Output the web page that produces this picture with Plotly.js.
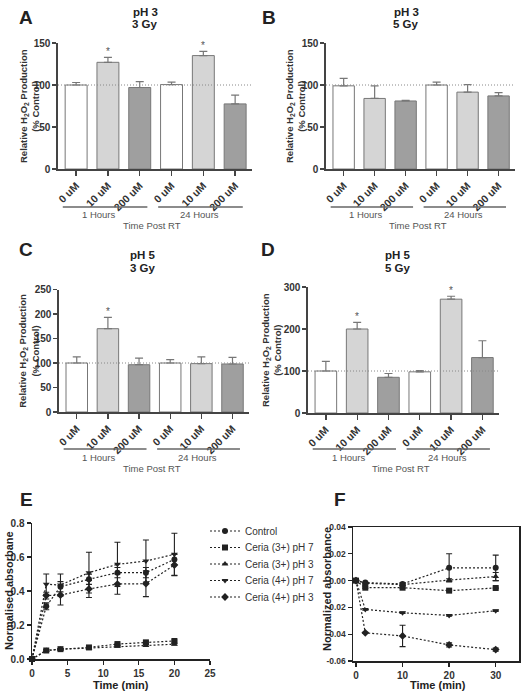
<!DOCTYPE html>
<html>
<head>
<meta charset="utf-8">
<script src="https://cdn.plot.ly/plotly-3.0.1.min.js"></script>
<style>html,body{margin:0;padding:0;background:#fff;}#chart{width:526px;height:696px;}</style>
</head>
<body>
<div id="chart"></div>
<script>
// ---------------- DATA ----------------
const barCats = ["0 uM", "10 uM", "200 uM", "0 uM", "10 uM", "200 uM"];
const groupLabels = ["1 Hours", "24 Hours"];
const groupAxisLabel = "Time Post RT";
const refLine = 100;

const A_vals = [100, 127, 97, 100.5, 135, 77.5];
const A_err  = [3, 6, 7, 3, 5, 10.5];
const A_sig  = [0, 1, 0, 0, 1, 0];

const B_vals = [99, 84, 81, 100, 91.5, 87];
const B_err  = [9, 15, 0.7, 3.5, 9, 4];
const B_sig  = [0, 0, 0, 0, 0, 0];

const C_vals = [100, 170, 96.5, 100, 98.7, 98];
const C_err  = [12.5, 23, 13.5, 6.7, 14, 13.4];
const C_sig  = [0, 1, 0, 0, 0, 0];

const D_vals = [100, 200, 85, 98, 271, 132];
const D_err  = [23, 16, 9, 3, 7, 40];
const D_sig  = [0, 1, 0, 0, 1, 0];

const seriesNames = ["Control", "Ceria (3+) pH 7", "Ceria (3+) pH 3", "Ceria (4+) pH 7", "Ceria (4+) pH 3"];
const seriesSymbols = ["circle", "square", "triangle-up", "triangle-down", "diamond"];

const timesE = [0, 2, 4, 8, 12, 16, 20];
const E_control    = [0, 0.31, 0.425, 0.469, 0.508, 0.508, 0.586];
const E_control_e  = [0, 0.02, 0.03, 0.03, 0.03, 0.03, 0.03];
const E_ce3pH7     = [0, 0.05, 0.058, 0.068, 0.088, 0.098, 0.106];
const E_ce3pH7_e   = [0, 0.004, 0.004, 0.005, 0.005, 0.006, 0.006];
const E_ce3pH3     = [0, 0.05, 0.057, 0.065, 0.075, 0.08, 0.087];
const E_ce3pH3_e   = [0, 0.004, 0.004, 0.004, 0.005, 0.005, 0.005];
const E_ce4pH7     = [0, 0.44, 0.435, 0.508, 0.557, 0.576, 0.616];
const E_ce4pH7_e   = [0, 0.06, 0.065, 0.12, 0.13, 0.124, 0.124];
const E_ce4pH3     = [0, 0.373, 0.376, 0.412, 0.441, 0.443, 0.553];
const E_ce4pH3_e   = [0, 0.02, 0.058, 0.05, 0.06, 0.076, 0.063];

const timesF = [0, 2, 10, 20, 30];
const F_control    = [0, -0.0015, -0.0025, 0.0095, 0.0095];
const F_control_e  = [0, 0.0005, 0.001, 0.0105, 0.0095];
const F_ce3pH7     = [0, -0.0053, -0.0053, -0.0075, -0.0055];
const F_ce3pH7_e   = [0, 0.0005, 0.0005, 0.0005, 0.0005];
const F_ce3pH3     = [0, -0.002, -0.003, 0.0004, 0.003];
const F_ce3pH3_e   = [0, 0.0005, 0.001, 0.001, 0.003];
const F_ce4pH7     = [0, -0.0215, -0.024, -0.026, -0.0225];
const F_ce4pH7_e   = [0, 0.0005, 0.0005, 0.0005, 0.0005];
const F_ce4pH3     = [0, -0.039, -0.0413, -0.048, -0.0515];
const F_ce4pH3_e   = [0, 0.0005, 0.008, 0.0015, 0.0012];

const E_ticksX = [0, 5, 10, 15, 20, 25];
const E_ticksY = [0, 0.2, 0.4, 0.6, 0.8];
const E_ticksYText = ["0.0", "0.2", "0.4", "0.6", "0.8"];
const F_ticksX = [0, 10, 20, 30];
const F_ticksY = [-0.06, -0.04, -0.02, 0, 0.02, 0.04];
const F_ticksYText = ["-0.06", "-0.04", "-0.02", "0.00", "0.02", "0.04"];

// ---------------- STYLE / LAYOUT ----------------
const W = 526, H = 696;
const FONT = "Liberation Sans, Arial, sans-serif";
const AX = "#444";
const barFill = ["#ffffff", "#d5d5d5", "#9f9f9f"];
const px = v => v / W;
const py = v => 1 - v / H;

const panels = [
  {key: "", vals: A_vals, err: A_err, sig: A_sig, x0: 58, x1: 252, yt: 43, yb: 169, yr: [0,150], yt_vals: [0,50,100,150],
   letter: "A", lx: 26, ly: 17, t1: "pH 3", t2: "3 Gy", tx: 145, ty1: 12, ty2: 24, ytx: 29,
   gy: 207, gly: 214, gty: 225},
  {key: "2", vals: B_vals, err: B_err, sig: B_sig, x0: 326, x1: 515, yt: 43, yb: 169, yr: [0,150], yt_vals: [0,50,100,150],
   letter: "B", lx: 269, ly: 17, t1: "pH 3", t2: "5 Gy", tx: 406, ty1: 12, ty2: 24, ytx: 295,
   gy: 207, gly: 214, gty: 225},
  {key: "3", vals: C_vals, err: C_err, sig: C_sig, x0: 59, x1: 249, yt: 289.5, yb: 412, yr: [0,250], yt_vals: [0,50,100,150,200,250],
   letter: "C", lx: 26, ly: 249, t1: "pH 5", t2: "3 Gy", tx: 143, ty1: 255, ty2: 268, ytx: 29,
   gy: 449, gly: 457, gty: 468},
  {key: "4", vals: D_vals, err: D_err, sig: D_sig, x0: 308, x1: 499, yt: 287, yb: 413, yr: [0,300], yt_vals: [0,100,200,300],
   letter: "D", lx: 268, ly: 249, t1: "pH 5", t2: "5 Gy", tx: 398, ty1: 255, ty2: 268, ytx: 271,
   gy: 449, gly: 457, gty: 468}
];

const data = [];
const layout = {
  width: W, height: H,
  margin: {l: 0, r: 0, t: 0, b: 0},
  paper_bgcolor: "#fff", plot_bgcolor: "rgba(0,0,0,0)",
  font: {family: FONT, color: "#333"},
  showlegend: true,
  annotations: [], shapes: []
};

const catIdx = barCats.map((c, i) => i);

panels.forEach(p => {
  const xa = "x" + p.key, ya = "y" + p.key;
  data.push({
    type: "bar", x: catIdx, y: p.vals, xaxis: xa, yaxis: ya, width: 0.69,
    marker: {color: catIdx.map(i => barFill[i % 3]), line: {color: "#777", width: 1}},
    error_y: {type: "data", array: p.err, arrayminus: p.err.map(() => 0), symmetric: false,
              color: "#777", thickness: 1.2, width: 4},
    showlegend: false, hoverinfo: "skip"
  });
  layout["xaxis" + p.key] = {
    domain: [px(p.x0), px(p.x1)], anchor: ya, range: [-0.57, 5.53],
    tickvals: catIdx, ticktext: barCats, tickangle: -45,
    ticks: "outside", ticklen: 5, tickwidth: 1.3, tickcolor: AX,
    showline: true, linecolor: AX, linewidth: 1.6, showgrid: false, zeroline: false,
    tickfont: {family: FONT, size: 10.5, weight: "bold", color: "#333"}, fixedrange: true
  };
  layout["yaxis" + p.key] = {
    domain: [py(p.yb), py(p.yt)], anchor: xa, range: p.yr, tickvals: p.yt_vals,
    ticks: "outside", ticklen: 4, tickwidth: 1.3, tickcolor: AX,
    showline: true, linecolor: AX, linewidth: 1.6, showgrid: false, zeroline: false,
    tickfont: {family: FONT, size: 10, weight: "bold", color: "#333"}, fixedrange: true
  };
  layout.shapes.push({type: "line", xref: xa + " domain", x0: 0, x1: 1, yref: ya, y0: refLine, y1: refLine,
    line: {color: "#888", width: 1, dash: "1px,2px"}, layer: "above"});
  [[-0.42, 2.24], [2.58, 5.24]].forEach(g => {
    layout.shapes.push({type: "line", xref: xa, x0: g[0], x1: g[1], yref: "paper", y0: py(p.gy), y1: py(p.gy),
      line: {color: "#666", width: 1.6}});
  });
  [0.73, 3.87].forEach((gx, gi) => {
    layout.annotations.push({xref: xa, yref: "paper", x: gx, y: py(p.gly), text: groupLabels[gi],
      showarrow: false, xanchor: "center", yanchor: "middle", font: {family: FONT, size: 9.5, color: "#555"}});
  });
  layout.annotations.push({xref: xa, yref: "paper", x: 2.4, y: py(p.gty), text: groupAxisLabel,
    showarrow: false, xanchor: "center", yanchor: "middle", font: {family: FONT, size: 9.5, color: "#555"}});
  p.sig.forEach((s, i) => {
    if (s) layout.annotations.push({xref: xa, yref: ya, x: i, y: p.vals[i] + p.err[i], text: "*",
      showarrow: false, xanchor: "center", yanchor: "bottom", yshift: -2, font: {family: FONT, size: 10, color: "#555"}});
  });
  layout.annotations.push({xref: "paper", yref: "paper", x: px(p.lx), y: py(p.ly), text: "<b>" + p.letter + "</b>",
    showarrow: false, xanchor: "center", yanchor: "middle", font: {family: FONT, size: 19, color: "#222"}});
  layout.annotations.push({xref: "paper", yref: "paper", x: px(p.tx), y: py(p.ty1), text: "<b>" + p.t1 + "</b>",
    showarrow: false, xanchor: "center", yanchor: "middle", font: {family: FONT, size: 11.5, color: "#222"}});
  layout.annotations.push({xref: "paper", yref: "paper", x: px(p.tx), y: py(p.ty2), text: "<b>" + p.t2 + "</b>",
    showarrow: false, xanchor: "center", yanchor: "middle", font: {family: FONT, size: 11.5, color: "#222"}});
  layout.annotations.push({xref: "paper", yref: "paper", x: px(p.ytx), y: py((p.yt + p.yb) / 2),
    text: "<b>Relative H<sub>2</sub>O<sub>2</sub> Production<br>(% Control)</b>", textangle: -90,
    showarrow: false, xanchor: "center", yanchor: "middle", font: {family: FONT, size: 9.5, color: "#333"}});
});

// ---------------- E & F line charts ----------------
const E_series = [[E_control, E_control_e], [E_ce3pH7, E_ce3pH7_e], [E_ce3pH3, E_ce3pH3_e], [E_ce4pH7, E_ce4pH7_e], [E_ce4pH3, E_ce4pH3_e]];
const F_series = [[F_control, F_control_e], [F_ce3pH7, F_ce3pH7_e], [F_ce3pH3, F_ce3pH3_e], [F_ce4pH7, F_ce4pH7_e], [F_ce4pH3, F_ce4pH3_e]];
const legendRows = [531, 547.5, 564, 580.5, 597];

E_series.forEach((s, i) => {
  const lg = i === 0 ? "legend" : "legend" + (i + 1);
  data.push({
    type: "scatter", mode: "lines+markers", x: timesE, y: s[0], xaxis: "x5", yaxis: "y5",
    name: seriesNames[i], legend: lg, cliponaxis: false,
    line: {color: "#222", width: 1.2, dash: "2px,2px"},
    marker: {symbol: seriesSymbols[i], size: 6, color: "#222"},
    error_y: {type: "data", array: s[1], color: "#222", thickness: 1.1, width: 3}
  });
  layout[lg] = {x: px(205), y: py(legendRows[i]), xanchor: "left", yanchor: "middle",
    bgcolor: "rgba(0,0,0,0)", font: {family: FONT, size: 10, color: "#333"}, itemwidth: 30};
});
F_series.forEach((s, i) => {
  data.push({
    type: "scatter", mode: "lines+markers", x: timesF, y: s[0], xaxis: "x6", yaxis: "y6",
    name: seriesNames[i], showlegend: false, cliponaxis: false,
    line: {color: "#222", width: 1.2, dash: "2px,2px"},
    marker: {symbol: seriesSymbols[i], size: 6, color: "#222"},
    error_y: {type: "data", array: s[1], color: "#222", thickness: 1.1, width: 3}
  });
});

const lineAxisBase = {
  ticks: "outside", ticklen: 4, tickwidth: 1.3, tickcolor: "#222",
  showline: true, linecolor: "#222", linewidth: 1.5, showgrid: false, zeroline: false,
  tickfont: {family: FONT, size: 10, weight: "bold", color: "#333"}, fixedrange: true
};
layout.xaxis5 = Object.assign({}, lineAxisBase, {domain: [px(32), px(210)], anchor: "y5", range: [0, 25], tickvals: E_ticksX});
layout.yaxis5 = Object.assign({}, lineAxisBase, {domain: [py(659), py(523)], anchor: "x5", range: [0, 0.8], tickvals: E_ticksY, ticktext: E_ticksYText});
layout.xaxis6 = Object.assign({}, lineAxisBase, {domain: [px(353), px(519)], anchor: "y6", range: [-0.64, 35], tickvals: F_ticksX, mirror: true});
layout.yaxis6 = Object.assign({}, lineAxisBase, {domain: [py(661), py(527)], anchor: "x6", range: [-0.06, 0.04], tickvals: F_ticksY, ticktext: F_ticksYText, mirror: true,
  tickfont: {family: FONT, size: 8.5, weight: "bold", color: "#333"}});

const extraText = [
  {x: 26, y: 500, t: "<b>E</b>", s: 19, a: 0},
  {x: 340, y: 500, t: "<b>F</b>", s: 19, a: 0},
  {x: 9, y: 591, t: "<b>Normalised absorbane</b>", s: 11, a: -90},
  {x: 327, y: 589, t: "<b>Normalized absorbance</b>", s: 11, a: -90},
  {x: 121, y: 685, t: "<b>Time (min)</b>", s: 11, a: 0},
  {x: 438, y: 685, t: "<b>Time (min)</b>", s: 11, a: 0}
];
extraText.forEach(e => layout.annotations.push({xref: "paper", yref: "paper", x: px(e.x), y: py(e.y), text: e.t,
  textangle: e.a, showarrow: false, xanchor: "center", yanchor: "middle", font: {family: FONT, size: e.s, color: "#222"}}));

Plotly.newPlot("chart", data, layout, {staticPlot: true, displayModeBar: false});
</script>
</body>
</html>
